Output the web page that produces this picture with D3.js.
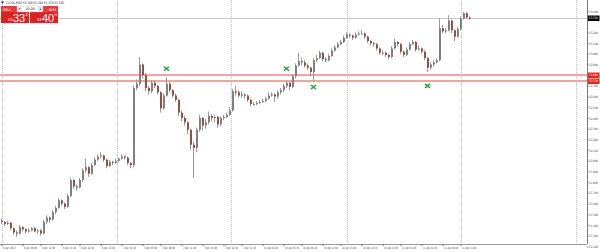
<!DOCTYPE html>
<html>
<head>
<meta charset="utf-8">
<script src="https://cdn.jsdelivr.net/npm/d3@7"></script>
<style>
body { margin: 0; background: #fff; }
svg { display: block; font-family: "DejaVu Sans", sans-serif; }
</style>
</head>
<body>
<div id="chart"></div>
<script>
// M30 candles
var opens = [
 51.44,51.43,51.41,51.42,51.37,51.33,51.32,51.38,51.36,51.34,
 51.35,51.37,51.34,51.35,51.32,51.43,51.47,51.45,51.52,51.56,
 51.63,51.60,51.57,51.67,51.82,51.76,51.75,51.82,51.91,51.94,
 51.88,51.96,52.01,52.04,52.05,52.01,51.95,51.99,51.98,52.00,
 52.02,52.04,52.03,51.98,51.96,52.68,52.72,52.90,52.80,52.68,
 52.65,52.73,52.70,52.64,52.49,52.61,52.72,52.66,52.61,52.57,
 52.45,52.40,52.36,52.29,52.15,52.12,52.29,52.40,52.33,52.36,
 52.42,52.40,52.41,52.34,52.40,52.41,52.43,52.47,52.65,52.64,
 52.61,52.62,52.61,52.57,52.53,52.53,52.54,52.55,52.56,52.58,
 52.61,52.62,52.60,52.64,52.66,52.70,52.73,52.69,52.79,52.89,
 52.93,52.92,52.89,52.87,52.83,52.94,52.96,53.01,52.95,52.94,
 52.98,53.03,53.06,53.09,53.11,53.15,53.18,53.17,53.15,53.18,
 53.19,53.19,53.16,53.12,53.10,53.09,53.05,53.01,53.01,52.99,
 52.97,53.05,53.11,53.09,53.02,52.99,53.04,53.09,53.11,53.04,
 53.05,53.02,52.96,52.87,52.90,52.92,52.94,53.24,53.21,53.22,
 53.31,53.22,53.16,53.23,53.33,53.38,53.34
];
var highs = [
 51.46,51.44,51.44,51.43,51.38,51.35,51.40,51.39,51.37,51.37,
 51.38,51.38,51.36,51.36,51.45,51.49,51.48,51.54,51.58,51.65,
 51.64,51.61,51.69,51.84,51.83,51.78,51.84,51.93,52.02,51.95,
 51.98,52.03,52.06,52.08,52.06,52.02,52.01,52.00,52.02,52.03,
 52.06,52.05,52.04,51.99,52.70,52.76,52.97,52.91,52.82,52.70,
 52.75,52.75,52.71,52.65,52.63,52.78,52.74,52.67,52.63,52.58,
 52.47,52.42,52.37,52.30,52.18,52.31,52.43,52.41,52.39,52.46,
 52.44,52.43,52.42,52.42,52.43,52.45,52.50,52.67,52.70,52.66,
 52.65,52.63,52.62,52.58,52.55,52.56,52.57,52.58,52.60,52.64,
 52.64,52.63,52.66,52.68,52.72,52.75,52.74,52.81,52.91,53.01,
 52.96,52.94,52.91,52.88,52.96,52.99,53.03,53.02,52.97,53.00,
 53.05,53.08,53.11,53.13,53.17,53.20,53.19,53.18,53.20,53.21,
 53.22,53.20,53.17,53.13,53.11,53.10,53.06,53.03,53.02,53.00,
 53.07,53.14,53.12,53.10,53.03,53.06,53.11,53.13,53.12,53.08,
 53.06,53.03,52.97,52.92,52.94,52.96,53.33,53.27,53.24,53.36,
 53.32,53.23,53.25,53.35,53.39,53.39,53.35
];
var lows = [
 51.41,51.39,51.40,51.35,51.31,51.29,51.31,51.34,51.32,51.33,
 51.34,51.33,51.32,51.30,51.31,51.41,51.42,51.44,51.50,51.55,
 51.58,51.55,51.56,51.66,51.74,51.72,51.74,51.80,51.89,51.85,
 51.87,51.95,52.00,52.02,51.99,51.93,51.94,51.96,51.97,51.99,
 52.01,52.01,51.96,51.93,51.94,52.66,52.70,52.77,52.65,52.62,
 52.63,52.68,52.62,52.45,52.48,52.60,52.64,52.59,52.55,52.42,
 52.37,52.33,52.25,52.10,51.84,52.08,52.27,52.28,52.30,52.34,
 52.37,52.36,52.31,52.32,52.38,52.40,52.42,52.46,52.61,52.59,
 52.59,52.58,52.55,52.51,52.52,52.52,52.53,52.54,52.55,52.57,
 52.60,52.55,52.58,52.62,52.64,52.68,52.66,52.68,52.77,52.88,
 52.89,52.87,52.85,52.79,52.74,52.92,52.95,52.93,52.92,52.93,
 52.97,53.02,53.05,53.08,53.10,53.14,53.15,53.13,53.14,53.17,
 53.18,53.14,53.10,53.08,53.07,53.03,52.99,52.99,52.97,52.95,
 52.96,53.04,53.07,53.00,52.97,52.98,53.03,53.08,53.02,53.03,
 53.00,52.94,52.83,52.85,52.88,52.91,52.93,53.19,53.19,53.21,
 53.19,53.12,53.15,53.22,53.32,53.33,53.32
];
var closes = [
 51.43,51.41,51.42,51.37,51.33,51.32,51.38,51.36,51.34,51.35,
 51.37,51.34,51.35,51.32,51.43,51.47,51.45,51.52,51.56,51.63,
 51.60,51.57,51.67,51.82,51.76,51.75,51.82,51.91,51.94,51.88,
 51.96,52.01,52.04,52.05,52.01,51.95,51.99,51.98,52.00,52.02,
 52.04,52.03,51.98,51.96,52.68,52.72,52.90,52.80,52.68,52.65,
 52.73,52.70,52.64,52.49,52.61,52.72,52.66,52.61,52.57,52.45,
 52.40,52.36,52.29,52.15,52.12,52.29,52.40,52.33,52.36,52.42,
 52.40,52.41,52.34,52.40,52.41,52.43,52.47,52.65,52.64,52.61,
 52.62,52.61,52.57,52.53,52.53,52.54,52.55,52.56,52.58,52.61,
 52.62,52.60,52.64,52.66,52.70,52.73,52.69,52.79,52.89,52.93,
 52.92,52.89,52.87,52.83,52.94,52.96,53.01,52.95,52.94,52.98,
 53.03,53.06,53.09,53.11,53.15,53.18,53.17,53.15,53.18,53.19,
 53.19,53.16,53.12,53.10,53.09,53.05,53.01,53.01,52.99,52.97,
 53.05,53.11,53.09,53.02,52.99,53.04,53.09,53.11,53.04,53.05,
 53.02,52.96,52.87,52.90,52.92,52.94,53.24,53.21,53.22,53.31,
 53.22,53.16,53.23,53.33,53.38,53.34,53.33
];

// time axis
var labelBars = [0,7,13,20,26,33,40,47,53,60,67,74,80,87,94,100,107,113,120,127,133,140,147,153];
var timeLabels = [
 "6 Apr 2017","6 Apr 09:00","6 Apr 12:00","6 Apr 15:30","6 Apr 18:30","6 Apr 22:00",
 "7 Apr 01:30","7 Apr 05:00","7 Apr 08:00","7 Apr 11:30","7 Apr 15:00","7 Apr 18:30",
 "7 Apr 21:30","10 Apr 02:00","10 Apr 05:30","10 Apr 08:30","10 Apr 12:00","10 Apr 15:00",
 "10 Apr 18:30","10 Apr 22:00","11 Apr 01:00","11 Apr 04:30","11 Apr 08:00","11 Apr 11:00"
];
var gridBars = [0, 38.5, 76.5, 115, 153, 191.5];

// price axis
var priceTicks = [53.4,53.3,53.2,53.1,53.0,52.9,52.8,52.7,52.6,52.5,52.4,52.3,52.2,52.1,52.0,
                  51.9,51.8,51.7,51.6,51.5,51.4,51.3,51.2];
var bidPrice = 53.33;
var levelPrices = [52.80, 52.75];

// trade arrows
var markerBars = [55, 95, 104, 142];
var markerPrices = [52.86, 52.86, 52.69, 52.70];

var width = 600, height = 252, plotRight = 587, plotBottom = 244;

var svg = d3.select("#chart").append("svg")
    .attr("width", width)
    .attr("height", height);

svg.append("rect").attr("width", width).attr("height", height).attr("fill", "#fff");

var x = d3.scaleLinear().domain([0, 195]).range([1.5, 586.5]);
var y = d3.scaleLinear().domain([51.2, 53.4]).range([246.4, 11]);

// dotted vertical grid
svg.selectAll(".grid")
    .data(gridBars)
    .enter().append("line")
    .attr("class", "grid")
    .attr("x1", function(d) { return Math.round(x(d)) + 0.5; })
    .attr("x2", function(d) { return Math.round(x(d)) + 0.5; })
    .attr("y1", 0)
    .attr("y2", plotBottom)
    .attr("stroke", "#c4c4c4")
    .attr("stroke-dasharray", "1,1");

// bid line and level lines
svg.append("line")
    .attr("x1", 0).attr("x2", plotRight)
    .attr("y1", Math.round(y(bidPrice)) + 0.5).attr("y2", Math.round(y(bidPrice)) + 0.5)
    .attr("stroke", "#c8c8c8");

svg.selectAll(".level")
    .data(levelPrices)
    .enter().append("rect")
    .attr("class", "level")
    .attr("x", 0).attr("width", plotRight)
    .attr("y", function(d) { return Math.round(y(d)) - 1; })
    .attr("height", 2)
    .attr("fill", "#f4a3a3");

// candles
var bars = d3.range(closes.length);
var candle = svg.append("g").selectAll("g")
    .data(bars)
    .enter().append("g");

candle.append("line")
    .attr("x1", function(i) { return Math.floor(x(i)) + 0.5; })
    .attr("x2", function(i) { return Math.floor(x(i)) + 0.5; })
    .attr("y1", function(i) { return y(highs[i]); })
    .attr("y2", function(i) { return y(lows[i]); })
    .attr("stroke", "#9a9a9a");

candle.append("rect")
    .attr("x", function(i) { return Math.floor(x(i)); })
    .attr("width", 2)
    .attr("y", function(i) { return y(Math.max(opens[i], closes[i])); })
    .attr("height", function(i) { return Math.max(1, Math.abs(y(opens[i]) - y(closes[i]))); })
    .attr("fill", function(i) { return closes[i] >= opens[i] ? "#808080" : "#94513f"; });

// trade markers
var mk = svg.selectAll(".mk")
    .data(markerBars)
    .enter().append("g")
    .attr("class", "mk")
    .attr("transform", function(d, i) { return "translate(" + x(d) + "," + y(markerPrices[i]) + ")"; });
mk.append("path")
    .attr("d", "M-2.5,-2 L2.5,2 M2.5,-2 L-2.5,2")
    .attr("stroke", "#1e9a2c")
    .attr("stroke-width", 1.4);
mk.append("rect")
    .attr("x", -1.2).attr("y", -1.2).attr("width", 2.4).attr("height", 2.4)
    .attr("fill", "#2fb83c");

// frame lines
svg.append("line")
    .attr("x1", plotRight + 0.5).attr("x2", plotRight + 0.5)
    .attr("y1", 0).attr("y2", plotBottom)
    .attr("stroke", "#7a7a7a");
svg.append("line")
    .attr("x1", 0).attr("x2", plotRight)
    .attr("y1", plotBottom + 0.5).attr("y2", plotBottom + 0.5)
    .attr("stroke", "#9a9a9a");

// right price axis
var shownTicks = priceTicks.filter(function(p) {
    var all = [bidPrice].concat(levelPrices);
    return all.every(function(q) { return Math.abs(p - q) > 0.035; });
});
var yAxis = d3.axisRight(y)
    .tickValues(shownTicks)
    .tickSize(1.5)
    .tickPadding(0.5)
    .tickFormat(d3.format(".3f"));
var gy = svg.append("g")
    .attr("transform", "translate(" + plotRight + ",0)")
    .call(yAxis);
gy.select(".domain").remove();
gy.selectAll("line").attr("stroke", "#777");
gy.selectAll("text")
    .attr("font-size", 3.2)
    .attr("fill", "#444")
    .attr("font-family", "DejaVu Sans")
    .attr("textLength", 9)
    .attr("lengthAdjust", "spacingAndGlyphs");

// price boxes on the axis
function priceBox(p, fill) {
    svg.append("rect")
        .attr("x", plotRight + 1).attr("y", Math.round(y(p)) - 2.5)
        .attr("width", 11.5).attr("height", 5.5)
        .attr("fill", fill);
    svg.append("text")
        .attr("x", plotRight + 2).attr("y", Math.round(y(p)) + 1.4)
        .attr("font-size", 3.2).attr("fill", "#fff")
        .attr("textLength", 9).attr("lengthAdjust", "spacingAndGlyphs")
        .text(d3.format(".3f")(p));
}
priceBox(bidPrice, "#000");
levelPrices.forEach(function(p) { priceBox(p, "#e8231e"); });

// bottom time axis
var xAxis = d3.axisBottom(x)
    .tickValues(labelBars)
    .tickSize(2)
    .tickFormat(function(d, i) { return timeLabels[i]; });
var gx = svg.append("g")
    .attr("transform", "translate(0," + plotBottom + ")")
    .call(xAxis);
gx.select(".domain").remove();
gx.selectAll("line").attr("stroke", "#777");
gx.selectAll("text")
    .attr("font-size", 3)
    .attr("fill", "#444")
    .attr("font-family", "DejaVu Sans")
    .attr("text-anchor", "start")
    .attr("dx", 1)
    .attr("y", 3)
    .attr("textLength", function(d, i) { return timeLabels[i].length > 11 ? 14 : 13; })
    .attr("lengthAdjust", "spacingAndGlyphs");

// title line
svg.append("path").attr("d", "M1,1.5 L4,1.5 L2.5,4 Z").attr("fill", "#222");
svg.append("text")
    .attr("x", 6).attr("y", 4)
    .attr("font-size", 3.4).attr("fill", "#222")
    .attr("textLength", 58).attr("lengthAdjust", "spacingAndGlyphs")
    .text("CLCOL,M30  53.340 53.340 53.320 53.330");

// one click trading panel
var panel = svg.append("g");
panel.append("rect").attr("x", 1).attr("y", 6).attr("width", 28).attr("height", 17).attr("fill", "#d92320");
panel.append("rect").attr("x", 30).attr("y", 6).attr("width", 28).attr("height", 17).attr("fill", "#d92320");
panel.append("rect").attr("x", 1).attr("y", 6).attr("width", 57).attr("height", 6).attr("fill", "#e0403c");
panel.append("rect").attr("x", 17).attr("y", 6).attr("width", 26).attr("height", 6).attr("fill", "#fff").attr("stroke", "#b0b0b0").attr("stroke-width", 0.4);
panel.append("rect").attr("x", 17).attr("y", 6).attr("width", 5).attr("height", 6).attr("fill", "#e6e6e6");
panel.append("rect").attr("x", 38).attr("y", 6).attr("width", 5).attr("height", 6).attr("fill", "#e6e6e6");
panel.append("path").attr("d", "M18.5,8.3 L20.5,8.3 L19.5,9.8 Z").attr("fill", "#555");
panel.append("path").attr("d", "M39.5,9.8 L41.5,9.8 L40.5,8.3 Z").attr("fill", "#555");
panel.append("text").attr("x", 30).attr("y", 10.3).attr("font-size", 3.4).attr("fill", "#222")
    .attr("text-anchor", "middle").text("10.00");
panel.append("text").attr("x", 3).attr("y", 10.5).attr("font-size", 3.4).attr("fill", "#fff").text("SELL");
panel.append("text").attr("x", 56).attr("y", 10.5).attr("font-size", 3.4).attr("fill", "#fff")
    .attr("text-anchor", "end").text("BUY");

function bigPrice(x0, head, big, tail) {
    panel.append("text").attr("x", x0).attr("y", 21).attr("font-size", 3.6).attr("fill", "#fff").text(head);
    panel.append("text").attr("x", x0 + 5).attr("y", 21.5).attr("font-size", 11).attr("fill", "#fff")
        .attr("font-family", "Liberation Sans").text(big);
    panel.append("text").attr("x", x0 + 17.5).attr("y", 15.5).attr("font-size", 4).attr("fill", "#fff").text(tail);
}
bigPrice(8, "53", "33", "0");
bigPrice(37, "53", "40", "0");
</script>
</body>
</html>
